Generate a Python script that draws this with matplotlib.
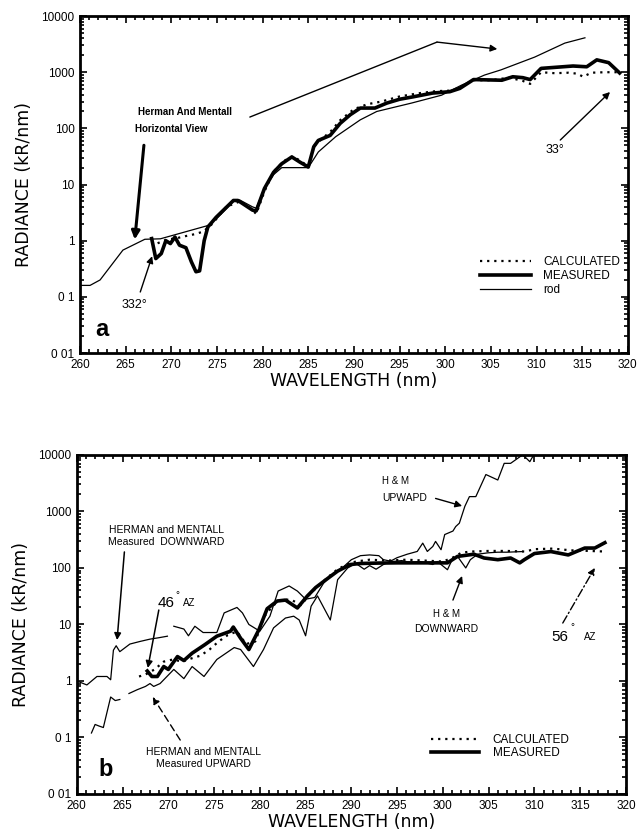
import matplotlib
matplotlib.use('Agg')
import matplotlib.pyplot as plt
from matplotlib.ticker import MultipleLocator, LogLocator, NullFormatter
import numpy as np

plt.rcParams['font.family'] = ['Liberation Sans', 'DejaVu Sans']

nan = np.nan

# ---- panel a: horizontal view ----
rod_wl = [260, 261.1, 262.2, 264.7, 267.1, 268.8, 274.0, 275.0, 276.8, 277.5, 278.9, 279.3,
          280.2, 281.2, 282.1, 285.0, 286.1, 288.0, 290.7, 292.5, 296.3, 299.6, 301.8, 304.3,
          306.1, 309.8, 313.1, 315.3]
rod = [0.16, 0.16, 0.2, 0.68, 1.06, 1.08, 1.86, 2.5, 5.0, 5.3, 4.0, 3.8,
       8.5, 15, 20, 20, 38, 71, 142, 200, 282, 390, 590, 890,
       1100, 1860, 3300, 4100]

meas_a_wl = [267.85, 268.3, 268.9, 269.4, 269.9, 270.4, 270.9, 271.6, 272.2, 272.7, 273.1, 273.6,
             274.0, 274.9, 276.8, 277.3, 278.9, 279.3, 280.2, 281.2, 282.1, 283.2, 284.1, 285.0,
             285.6, 286.1, 287.4, 288.5, 289.6, 290.7, 292.3, 293.6, 295.0, 296.5, 298.6, 300.5,
             301.6, 303.1, 306.2, 307.4, 308.5, 309.3, 310.5, 314.0, 315.5, 316.6, 317.9, 319.1]
meas_a = [1.09, 0.48, 0.59, 1.0, 0.89, 1.16, 0.83, 0.75, 0.42, 0.28, 0.29, 1.0,
          1.75, 2.6, 5.2, 5.2, 3.5, 3.4, 8.5, 16.5, 23.5, 31, 25, 20.5,
          47, 61, 75, 123, 175, 230, 230, 282, 330, 365, 425, 450,
          515, 740, 720, 830, 800, 740, 1170, 1290, 1250, 1660, 1480, 970]

calc_a_wl = [268.5, 269.5, 270.5, 271.5, 272.5, 273.5, 274.5, 276.0, 277.5, 278.5, 279.3, 280.2,
             281.2, 282.3, 283.3, 284.2, 285.0, 285.7, 286.5, 287.5, 288.5, 290.0, 291.5, 293.0,
             295.0, 297.0, 299.0, 300.5, 301.6, 303.0, 305.0, 307.0, 308.5, 309.3, 310.5, 312.0,
             313.5, 314.5, 315.1, 316.0, 317.5, 319.0]
calc_a = [0.9, 1.05, 1.1, 1.2, 1.3, 1.45, 2.0, 4.0, 5.0, 4.0, 3.0, 7.5,
          17, 26, 32, 26, 21, 50, 65, 90, 140, 220, 270, 300,
          370, 420, 460, 470, 530, 720, 720, 800, 700, 620, 1000, 960,
          980, 940, 830, 980, 1000, 1000]

# ---- panel b: downward / upward ----
down_wl = [260, 261.1, 262.2, 263.3, 263.7, 264.0, 264.3, 264.7, 265.8, 266.9, 268.0, 268.9,
           269.9, nan, 270.6, 271.7, 272.2, 272.9, 273.8, 275.3, 275.7, 276.1, 277.5, 278.1,
           278.8, 280.0, 281.1, 282.0, 283.2, 284.1, 285.0, 286.0, 287.0, 288.0, 289.0, 290.0,
           291.0, 292.0, 293.0, 293.5, 294.5, 295.5, 296.5, 297.5, 298.9, 299.4, 300.5, 301.1,
           301.6, 302.5, 303.0, 303.8, 304.9, 306.0, 307.0, 308.7]
down = [1.0, 0.85, 1.2, 1.2, 1.05, 3.5, 4.2, 3.3, 4.5, 5.0, 5.5, 5.8,
        6.2, nan, 9.3, 8.3, 6.3, 9.3, 7.2, 7.2, 10.7, 16, 20, 16,
        10, 7.6, 14, 39, 48, 39, 28, 30, 55, 80, 100, 140,
        165, 170, 165, 140, 130, 135, 125, 130, 115, 130, 93, 150,
        160, 100, 140, 175, 185, 190, 190, 195]

up_wl = [261.6, 262.0, 262.4, 262.9, 263.7, 264.2, 264.7, nan, 265.7, 266.6, 267.5, 268.0,
         268.4, 269.1, 270.6, 271.7, 272.6, 273.9, 275.3, 277.2, 277.9, 279.3, 280.4, 281.5,
         282.8, 283.7, 284.3, 285.0, 285.6, 286.3, 287.7, 288.5, 289.6, 290.5, 291.4, 292.0,
         292.7, 293.5, 294.0, 295.0, 296.1, 297.2, 297.8, 298.3, 298.9, 299.2, 299.8, 300.2,
         301.1, 301.4, 301.8, 302.4, 302.9, 303.6, 304.7, 306.0, 306.7, 307.4, 308.7, 309.1,
         309.5, 310.2]
up = [0.12, 0.17, 0.16, 0.15, 0.52, 0.45, 0.47, nan, 0.6, 0.7, 0.8, 0.9,
      0.8, 0.9, 1.6, 1.1, 1.8, 1.2, 2.4, 3.9, 3.6, 1.8, 3.6, 8.7,
      13, 14, 12, 6.3, 21, 32, 12, 62, 100, 120, 95, 110,
      95, 115, 125, 152, 175, 196, 275, 196, 240, 295, 210, 390,
      450, 540, 620, 1230, 1830, 1830, 4500, 3600, 7100, 7100, 10000, 8800,
      7600, 12000]

meas_b_wl = [267.7, 268.2, 268.8, 269.5, 270.0, 271.0, 271.7, 272.6, 274.0, 275.3, 276.8, 277.1,
             277.9, 278.8, 279.9, 280.8, 281.9, 282.8, 284.1, 285.2, 286.1, 287.4, 288.5, 289.9,
             291.0, 293.0, 295.0, 297.2, 299.0, 300.5, 301.6, 303.4, 304.5, 306.0, 307.4, 308.4,
             308.9, 310.0, 311.8, 313.7, 315.5, 316.6, 317.7]
meas_b = [1.5, 1.2, 1.2, 1.8, 1.6, 2.7, 2.3, 3.1, 4.4, 6.2, 7.6, 9.0,
          5.7, 3.6, 8.1, 19, 26, 27, 19.6, 32, 45, 65, 88, 115,
          120, 122, 123, 123, 123, 123, 160, 175, 150, 140, 150, 123,
          140, 180, 195, 170, 225, 225, 280]

calc_b_wl = [266.8, 267.5, 268.5, 269.5, 270.5, 271.5, 272.5, 273.5, 274.5, 275.5, 276.5, 277.5,
             278.5, 279.5, 280.5, 281.5, 282.5, 283.5, 284.5, 285.5, 286.5, 287.5, 288.5, 289.5,
             290.5, 292.0, 294.0, 296.0, 298.0, 300.0, 301.0, 302.0, 303.0, 305.0, 307.0, 309.0,
             310.0, 312.0, 314.0, 316.0, 317.8]
calc_b = [1.2, 1.3, 1.6, 2.2, 2.4, 2.2, 2.5, 2.8, 3.6, 5.0, 6.5, 7.5,
          4.5, 5.0, 14, 22, 28, 27, 22, 35, 50, 70, 95, 115,
          130, 140, 135, 140, 135, 130, 150, 185, 195, 200, 200, 195,
          215, 220, 205, 200, 195]

ytick_vals = [0.01, 0.1, 1, 10, 100, 1000, 10000]
ytick_text = ['0 01', '0 1', '1', '10', '100', '1000', '10000']
xtick_vals = list(range(260, 321, 5))


def style_axes(ax):
    ax.set_yscale('log')
    ax.set_xlim(260, 320)
    ax.set_ylim(0.01, 10000)
    ax.set_xticks(xtick_vals)
    ax.xaxis.set_minor_locator(MultipleLocator(1))
    ax.set_yticks(ytick_vals)
    ax.set_yticklabels(ytick_text)
    ax.yaxis.set_minor_locator(LogLocator(base=10, subs=np.arange(2, 10), numticks=20))
    ax.yaxis.set_minor_formatter(NullFormatter())
    ax.tick_params(which='both', direction='in', top=True, right=True, width=1.2,
                   labelsize=8.5, pad=4)
    ax.tick_params(which='major', length=5)
    ax.tick_params(which='minor', length=3)
    for s in ax.spines.values():
        s.set_linewidth(2)
    ax.set_xlabel('WAVELENGTH (nm)', fontsize=12.5, labelpad=1,
                  family=['DejaVu Sans'])
    ax.set_ylabel('RADIANCE (kR/nm)', fontsize=12.5, labelpad=6,
                  family=['DejaVu Sans'])


def arrow(ax, start, end, lw=1.0, ls='-', scale=10):
    ax.annotate('', xy=end, xytext=start,
                arrowprops=dict(arrowstyle='-|>', lw=lw, color='k', linestyle=ls,
                                shrinkA=0, shrinkB=0, mutation_scale=scale))


fig = plt.figure(figsize=(6.4, 8.32), dpi=100)
ax1 = fig.add_axes([0.125, 0.5757, 0.856, 0.405])
ax2 = fig.add_axes([0.120, 0.0457, 0.858, 0.4075])

# panel a
ax1.plot(calc_a_wl, calc_a, color='k', lw=1.6, ls=(0, (1, 2.2)), label='CALCULATED')
ax1.plot(meas_a_wl, meas_a, color='k', lw=2.6, label='MEASURED')
ax1.plot(rod_wl, rod, color='k', lw=0.9, label='rod')
style_axes(ax1)
ax1.legend(loc='upper left', bbox_to_anchor=(0.72, 0.305), frameon=False, fontsize=8.5,
           handlelength=4.3, handletextpad=1.0, labelspacing=0.15, borderpad=0)

ax1.text(266.3, 195, 'Herman And Mentall', fontsize=7, fontweight='bold', va='center')
ax1.text(266.0, 97, 'Horizontal View', fontsize=7, fontweight='bold', va='center')
arrow(ax1, (267.0, 50), (266.0, 1.05), lw=2.2, scale=12)
ax1.annotate('', xy=(299.1, 3440), xytext=(278.6, 159),
             arrowprops=dict(arrowstyle='-', lw=1.0, color='k', shrinkA=0, shrinkB=0))
arrow(ax1, (299.1, 3440), (305.7, 2590))
ax1.text(266.0, 0.072, '332°', fontsize=9, ha='center', va='center')
arrow(ax1, (266.6, 0.122), (267.9, 0.53))
ax1.text(312.0, 41, '33°', fontsize=9, ha='center', va='center')
arrow(ax1, (312.6, 62), (318.05, 444))
ax1.text(262.4, 0.026, 'a', fontsize=17, fontweight='bold', ha='center', va='center')

# panel b
ax2.plot(calc_b_wl, calc_b, color='k', lw=1.6, ls=(0, (1, 2.2)), label='CALCULATED')
ax2.plot(meas_b_wl, meas_b, color='k', lw=2.6, label='MEASURED')
ax2.plot(down_wl, down, color='k', lw=0.9)
ax2.plot(up_wl, up, color='k', lw=0.9)
style_axes(ax2)
ax2.legend(loc='upper left', bbox_to_anchor=(0.635, 0.195), frameon=False, fontsize=8.5,
           handlelength=4.0, handletextpad=1.2, labelspacing=0.1, borderpad=0)

ax2.text(269.8, 471, 'HERMAN and MENTALL', fontsize=7.5, ha='center', va='center')
ax2.text(269.8, 289, 'Measured  DOWNWARD', fontsize=7.5, ha='center', va='center')
arrow(ax2, (265.2, 192), (264.4, 5.3), lw=1.1)
ax2.text(269.8, 24, '46', fontsize=11, ha='center', va='center')
ax2.text(271.0, 33, '°', fontsize=7, ha='center', va='center')
ax2.text(272.3, 24, 'AZ', fontsize=7, ha='center', va='center')
arrow(ax2, (268.96, 18), (267.76, 1.7), lw=1.1)
ax2.text(273.8, 0.055, 'HERMAN and MENTALL', fontsize=7.5, ha='center', va='center')
ax2.text(273.8, 0.034, 'Measured UPWARD', fontsize=7.5, ha='center', va='center')
arrow(ax2, (271.3, 0.09), (268.3, 0.52), lw=1.0, ls=(0, (5, 3)))
ax2.text(293.4, 3467, 'H & M', fontsize=7, va='center')
ax2.text(293.4, 1734, 'UPWAPD', fontsize=7.5, va='center')
arrow(ax2, (299.2, 1700), (302.1, 1250))
ax2.text(300.4, 15.4, 'H & M', fontsize=7, ha='center', va='center')
ax2.text(300.4, 8.3, 'DOWNWARD', fontsize=7.5, ha='center', va='center')
arrow(ax2, (301.1, 27), (302.1, 72))
ax2.text(312.8, 6.0, '56', fontsize=11, ha='center', va='center')
ax2.text(314.2, 9.0, '°', fontsize=7, ha='center', va='center')
ax2.text(316.1, 6.0, 'AZ', fontsize=7, ha='center', va='center')
arrow(ax2, (313.1, 10.6), (316.6, 100), lw=1.0, ls=(0, (6, 2, 1, 2)))
ax2.text(263.1, 0.027, 'b', fontsize=17, fontweight='bold', ha='center', va='center')

fig.savefig('out.png', dpi=100)
